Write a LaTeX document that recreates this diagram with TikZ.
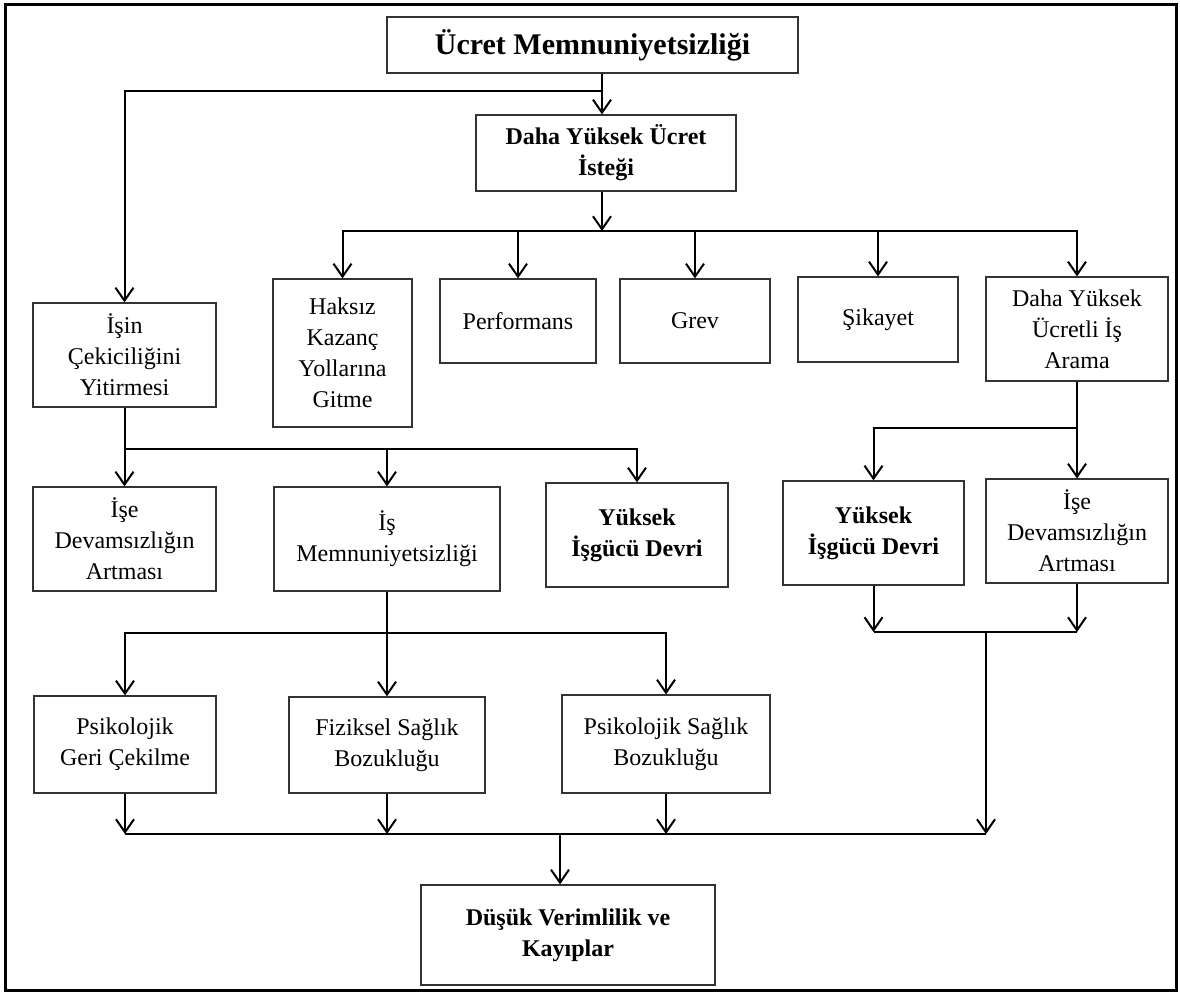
\documentclass[tikz,border=0pt]{standalone}
\usepackage{fontspec}
\setmainfont{Liberation Serif}
\usetikzlibrary{arrows.meta}

\begin{document}
\begin{tikzpicture}[x=1pt,y=-1pt,
    box/.style={draw=black!80, line width=1.2pt, inner sep=0pt, align=center,
      font=\fontsize{24}{31}\selectfont},
    boldbox/.style={box, font=\fontsize{24}{31}\selectfont\bfseries},
    link/.style={line width=2pt},
    arrow/.style={link, -{Straight Barb[length=13pt,width=18pt]}}]
    \useasboundingbox (0,0) rectangle (1180,992);
    \draw[line width=3pt] (5,5) rectangle (1176,990);
    % kutular
    \node[box, minimum width=411, minimum height=56, font=\fontsize{30}{36}\selectfont\bfseries] (title) at (592.5,45) {Ücret Memnuniyetsizliği};
    \node[boldbox, minimum width=260, minimum height=76] (istek) at (606,153) {Daha Yüksek Ücret\\İsteği};
    \node[box, minimum width=139, minimum height=148] (haksiz) at (342.5,353) {Haksız\\Kazanç\\Yollarına\\Gitme};
    \node[box, minimum width=156, minimum height=84] (perf) at (518,321) {Performans};
    \node[box, minimum width=150, minimum height=84] (grev) at (695,321) {Grev};
    \node[box, minimum width=160, minimum height=85] (sikayet) at (878,319.5) {Şikayet};
    \node[box, minimum width=182, minimum height=104] (arama) at (1077,329) {Daha Yüksek\\Ücretli İş\\Arama};
    \node[box, minimum width=183, minimum height=104] (cekicilik) at (124.5,355) {İşin\\Çekiciliğini\\Yitirmesi};
    \node[box, minimum width=183, minimum height=104] (devams1) at (124.5,539) {İşe\\Devamsızlığın\\Artması};
    \node[box, minimum width=226, minimum height=104] (memn) at (387,539) {İş\\Memnuniyetsizliği};
    \node[boldbox, minimum width=182, minimum height=104] (devir1) at (637,535) {Yüksek\\İşgücü Devri};
    \node[boldbox, minimum width=181, minimum height=104] (devir2) at (873.5,533) {Yüksek\\İşgücü Devri};
    \node[box, minimum width=182, minimum height=104] (devams2) at (1077,531) {İşe\\Devamsızlığın\\Artması};
    \node[box, minimum width=182, minimum height=97] (geri) at (125,744.5) {Psikolojik\\Geri Çekilme};
    \node[box, minimum width=196, minimum height=96] (fizik) at (387,745) {Fiziksel Sağlık\\Bozukluğu};
    \node[box, minimum width=208, minimum height=98] (psiko) at (666,744) {Psikolojik Sağlık\\Bozukluğu};
    \node[boldbox, minimum width=294, minimum height=100] (verim) at (568,935) {Düşük Verimlilik ve\\Kayıplar};
    % baglantilar
    \coordinate (j1) at (602,91);
    \coordinate (j2) at (602,231);
    \coordinate (j3) at (124.5,449);
    \coordinate (j4) at (387,633);
    \coordinate (j5) at (1077,428);
    \coordinate (j6) at (986,632);
    \coordinate (jb) at (560,834);
    \draw[link] (title.south -| j1) -- (j1);
    \draw[arrow] (j1) -- (istek.north -| j1);
    \draw[arrow] (j1) -| (cekicilik.north);
    \draw[arrow] (istek.south -| j2) -- (j2);
    \draw[arrow] (j2) -| (haksiz.north);
    \draw[arrow] (j2) -| (perf.north);
    \draw[arrow] (j2) -| (grev.north);
    \draw[arrow] (j2) -| (sikayet.north);
    \draw[arrow] (j2) -| (arama.north);
    \draw[link] (cekicilik.south) -- (j3);
    \draw[arrow] (j3) -- (devams1.north);
    \draw[arrow] (j3) -| (memn.north);
    \draw[arrow] (j3) -| (devir1.north);
    \draw[link] (memn.south) -- (j4);
    \draw[arrow] (j4) -| (geri.north);
    \draw[arrow] (j4) -- (fizik.north);
    \draw[arrow] (j4) -| (psiko.north);
    \draw[link] (arama.south) -- (j5);
    \draw[arrow] (j5) -- (devams2.north);
    \draw[arrow] (j5) -| (devir2.north);
    \draw[arrow] (devir2.south) -- (devir2.south |- j6);
    \draw[arrow] (devams2.south) -- (devams2.south |- j6);
    \draw[link] (devir2.south |- j6) -- (devams2.south |- j6);
    \draw[arrow] (geri.south) -- (geri.south |- jb);
    \draw[arrow] (fizik.south) -- (fizik.south |- jb);
    \draw[arrow] (psiko.south) -- (psiko.south |- jb);
    \draw[arrow] (j6) -- (j6 |- jb);
    \draw[line width=2.6pt] (geri.south |- jb) -- (j6 |- jb);
    \draw[arrow] (jb) -- (verim.north -| jb);
\end{tikzpicture}
\end{document}
